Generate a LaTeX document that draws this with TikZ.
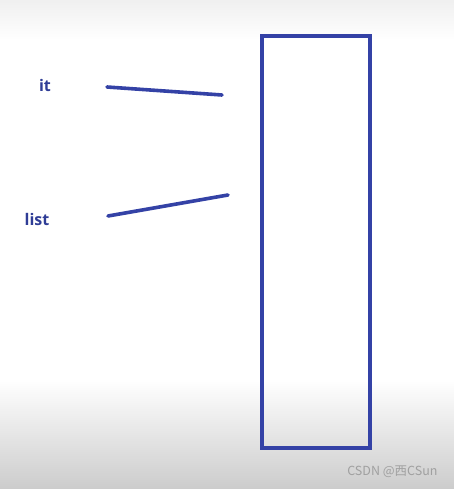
\documentclass[tikz,border=0pt]{standalone}
\usepackage{fontspec}
\setmainfont{Open Sans}
\newfontfamily\cjk{Noto Sans CJK SC}
\usepackage{tikz}
\usetikzlibrary{positioning}
\definecolor{penblue}{HTML}{3442A6}
\definecolor{inkblue}{HTML}{2F3D96}
\definecolor{markgray}{HTML}{A0A0A0}
\newcommand{\LB}[1]{\textcolor{inkblue}{\textbf{#1}}}

\begin{document}
\begin{tikzpicture}[x=1pt, y=-1pt,
    pen/.style={draw=penblue, line width=3.6pt, line cap=round},
    box/.style={draw=penblue, line width=4pt}]

  %% page and background
  \useasboundingbox (0,0) rectangle (454,489);
  \fill[white] (0,0) rectangle (454,489);
  \shade[top color=black!6, bottom color=white] (0,0) rectangle (454,40);
  \shade[top color=white, bottom color=black!20] (0,380) rectangle (454,489);

  %% labels
  \node (it) at (45,86) {\fontsize{16}{18}\selectfont\LB{it}};
  \node (list) at (37,219) {\fontsize{16}{18}\selectfont\LB{list}};

  %% the block
  \draw[box] (262,36) rectangle (370,448);

  %% pointers
  \coordinate (itA) at (107,87);
  \coordinate (itB) at (222,95);
  \coordinate (listA) at (108,216);
  \coordinate (listB) at (228,195);
  \draw[pen] (itA) -- (itB); % it
  \draw[pen] (listA) -- (listB); % list

  %% watermark
  \node[text=markgray, anchor=east] (mark) at (441,472)
    {\fontsize{12.5}{14}\selectfont\cjk CSDN @西CSun};
\end{tikzpicture}
\end{document}
